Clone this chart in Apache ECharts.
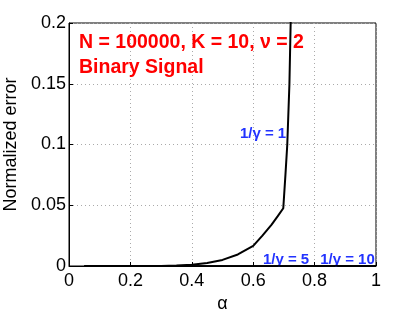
<!DOCTYPE html>
<html><head><meta charset="utf-8">
<script src="https://cdn.jsdelivr.net/npm/echarts@6/dist/echarts.min.js"></script>
<style>html,body{margin:0;padding:0;background:#fff}#c{width:415px;height:312px}</style>
</head><body><div id="c"></div>
<script>
var alphaVals = [0.05, 0.1, 0.2, 0.3, 0.35, 0.4, 0.45, 0.5, 0.55, 0.6, 0.63, 0.66, 0.68, 0.698, 0.705, 0.711, 0.718, 0.722, 0.726];
var errGamma1 = [0, 0, 0, 0.0001, 0.0004, 0.0011, 0.0025, 0.005, 0.0095, 0.0165, 0.025, 0.034, 0.041, 0.0475, 0.075, 0.1, 0.15, 0.2, 0.25];
var alphaFlat = [0.05, 0.3, 0.6, 0.9, 1.0];
var errGamma5 = [0, 0, 0.0001, 0.0002, 0.0002];
var errGamma10 = [0, 0, 0, 0.0001, 0.0001];
var xTicks = [0, 0.2, 0.4, 0.6, 0.8, 1];
var yTicks = [0, 0.05, 0.1, 0.15, 0.2];
var labelX = [0.632, 0.707, 0.907];
var labelY = [0.1086, 0.0053, 0.0053];
var labelText = ['1/\u03b3 = 1', '1/\u03b3 = 5', '1/\u03b3 = 10'];
var titleLines = ['N = 100000, K = 10, \u03bd = 2', 'Binary Signal'];

var F = 'Liberation Sans, Arial, Helvetica, sans-serif';
function pairs(xs, ys){ return xs.map(function(x,i){return [x, ys[i]];}); }
var chart = echarts.init(document.getElementById('c'));
chart.setOption({
  animation: false,
  title: {
    text: titleLines.join('\n'), left: 79, top: 30, padding: 0,
    textStyle: {color: '#ff0000', fontFamily: F, fontWeight: 'bold', fontSize: 19.5, lineHeight: 25}
  },
  grid: {left: 69, right: 39, top: 23, bottom: 46, show: true, borderColor: '#000', borderWidth: 1,
    containLabel: false, outerBoundsMode: 'none'},
  xAxis: {
    type: 'value', min: 0, max: 1, interval: 0.2,
    name: '\u03b1', nameLocation: 'middle', nameGap: 27,
    nameTextStyle: {fontFamily: F, fontSize: 18, color: '#000'},
    axisLine: {show: true, lineStyle: {color: '#000'}},
    axisTick: {show: true, inside: true, length: 4, lineStyle: {color: '#000'}},
    axisLabel: {fontFamily: F, fontSize: 18, color: '#000', margin: 6,
      formatter: function(v){ return String(+v.toFixed(2)); }},
    splitLine: {show: true, lineStyle: {type: [1, 3], color: '#aaa'}}
  },
  yAxis: {
    type: 'value', min: 0, max: 0.2, interval: 0.05,
    name: 'Normalized error', nameLocation: 'middle', nameGap: 47,
    nameTextStyle: {fontFamily: F, fontSize: 18, color: '#000'},
    axisLine: {show: true, lineStyle: {color: '#000'}},
    axisTick: {show: true, inside: true, length: 4, lineStyle: {color: '#000'}},
    axisLabel: {fontFamily: F, fontSize: 18, color: '#000', margin: 3,
      formatter: function(v){ return String(+v.toFixed(2)); }},
    splitLine: {show: true, lineStyle: {type: [1, 3], color: '#aaa'}}
  },
  series: [
    {type: 'line', data: pairs(alphaFlat, errGamma10), symbol: 'none', clip: true,
      lineStyle: {color: '#000', width: 1.5}},
    {type: 'line', data: pairs(alphaFlat, errGamma5), symbol: 'none', clip: true,
      lineStyle: {color: '#000', width: 1.5}},
    {type: 'line', data: pairs(alphaVals, errGamma1), symbol: 'none', smooth: false, clip: true,
      lineStyle: {color: '#000', width: 2}},
    {type: 'scatter', symbolSize: 1, silent: true, itemStyle: {opacity: 0},
      data: labelX.map(function(x,i){ return {value: [x, labelY[i]], name: labelText[i]}; }),
      label: {show: true, position: 'inside', formatter: '{b}', opacity: 1,
        color: '#2233ff', fontFamily: F, fontWeight: 'bold', fontSize: 15}}
  ]
});
</script></body></html>
